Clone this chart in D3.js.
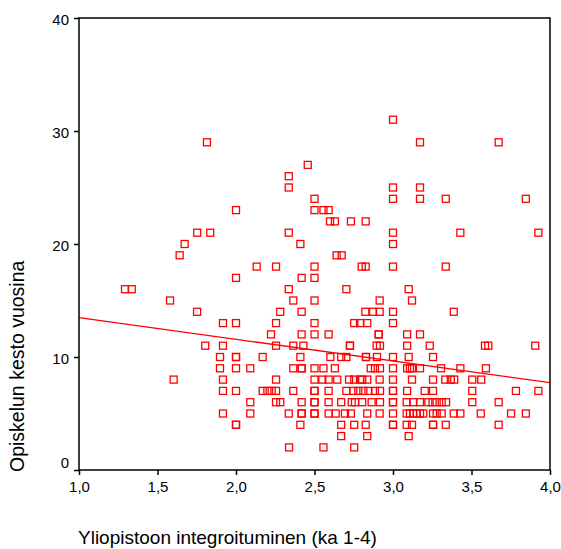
<!DOCTYPE html>
<html><head><meta charset="utf-8">
<script src="https://cdn.jsdelivr.net/npm/d3@7"></script>
<style>body{margin:0;background:#fff}svg{display:block}text{font-family:"Liberation Sans",Arial,sans-serif}</style>
</head><body><svg id="c" width="561" height="549"></svg>
<script>
// Observed data: rows of y (study duration, years) with x values (integration mean)
const rowY = [31,29,27,26,25,24,23,22,21,20,19,18,17,16,15,14,13,12,11,10,9,8,7,6,5,4,3,2];
const rowX = [
 [3.0],
 [1.815,3.172,3.673],
 [2.457],
 [2.336],
 [2.336,3.0,3.172],
 [2.5,3.0,3.172,3.336,3.846],
 [2.0,2.5,2.557,2.59],
 [2.599,2.63,2.732,2.826],
 [1.753,1.836,2.336,3.0,3.429,3.926],
 [1.673,2.41,3.0],
 [1.641,2.641,2.673],
 [2.132,2.255,2.5,2.801,2.826,3.0,3.336],
 [2.0,2.418,2.5],
 [1.293,1.336,2.336,2.703,3.1],
 [1.58,2.365,2.5,2.915,3.121],
 [1.752,2.282,2.418,2.824,2.873,2.915,3.0,3.387],
 [1.917,2.0,2.255,2.5,2.753,2.79,2.836,3.0],
 [2.223,2.418,2.5,2.59,2.909,2.909,3.09,3.172],
 [1.804,1.917,2.255,2.365,2.429,2.726,2.726,2.896,2.917,3.09,3.234,3.586,3.607,3.906],
 [1.898,2.0,2.0,2.17,2.41,2.601,2.67,2.703,2.828,2.828,2.898,3.0,3.1,3.255],
 [1.898,2.0,2.091,2.365,2.418,2.418,2.5,2.557,2.63,2.858,2.885,2.917,3.0,3.09,3.108,3.121,3.172,3.306,3.429,3.592],
 [1.603,1.917,2.255,2.5,2.55,2.59,2.645,2.72,2.753,2.79,2.804,2.836,2.915,3.0,3.121,3.255,3.333,3.368,3.39,3.505,3.562],
 [1.917,2.0,2.17,2.2,2.227,2.255,2.365,2.5,2.5,2.59,2.703,2.747,2.779,2.811,2.843,2.885,2.917,3.0,3.0,3.09,3.202,3.255,3.505,3.783,3.926],
 [2.091,2.255,2.282,2.418,2.5,2.5,2.59,2.67,2.737,2.758,2.804,2.864,2.917,3.0,3.0,3.087,3.129,3.172,3.225,3.252,3.278,3.31,3.338,3.505,3.673],
 [1.917,2.091,2.336,2.418,2.418,2.5,2.5,2.59,2.635,2.694,2.732,2.836,2.915,3.0,3.087,3.108,3.129,3.151,3.172,3.193,3.255,3.278,3.31,3.387,3.429,3.559,3.752,3.846],
 [2.0,2.0,2.41,2.67,2.753,2.826,3.0,3.0,3.087,3.121,3.255,3.255,3.336,3.673],
 [2.67,2.836,3.1],
 [2.338,2.557,2.753]
];
// Fitted regression line
const fitX = [1.0, 4.0];
const fitY = [13.48, 7.73];
const xTicks = [1.0,1.5,2.0,2.5,3.0,3.5,4.0];
const xTickLabels = ["1,0","1,5","2,0","2,5","3,0","3,5","4,0"];
const yTicks = [0,10,20,30,40];
const yTickLabels = ["0","10","20","30","40"];
const xTitle = "Yliopistoon integroituminen (ka 1-4)";
const yTitle = "Opiskelun kesto vuosina";

const points = [];
rowY.forEach((y,i)=>rowX[i].forEach(x=>points.push({x,y})));

const svg = d3.select("#c");
const L=79, R=550, T=18, B=470;
const x = d3.scaleLinear().domain([1,4]).range([L,R]);
const y = d3.scaleLinear().domain([0,40]).range([B,T]);

// points
const s = 7;
svg.append("g").selectAll("rect").data(points).join("rect")
  .attr("x", d=>x(d.x)-s/2).attr("y", d=>y(d.y)-s/2)
  .attr("width", s).attr("height", s)
  .attr("fill","none").attr("stroke","#ff0000").attr("stroke-width",1.3);

// regression line
svg.append("line")
  .attr("x1", x(fitX[0])).attr("y1", y(fitY[0]))
  .attr("x2", x(fitX[1])).attr("y2", y(fitY[1]))
  .attr("stroke","#ff0000").attr("stroke-width",1.4);

// frame
svg.append("rect").attr("x",L).attr("y",T).attr("width",R-L).attr("height",B-T)
  .attr("fill","none").attr("stroke","#000").attr("stroke-width",1.5);

// axes
const xAxis = d3.axisBottom(x).tickValues(xTicks).tickSize(5)
  .tickFormat((d,i)=>xTickLabels[i]);
const gx = svg.append("g").attr("transform",`translate(0,${B})`).call(xAxis);
gx.select(".domain").remove();
gx.selectAll("line").attr("stroke","#000").attr("stroke-width",1.5);
gx.selectAll("text").attr("font-size",15).attr("fill","#000").attr("dy","0.9em");

const yAxis = d3.axisLeft(y).tickValues(yTicks).tickSize(5)
  .tickFormat((d,i)=>yTickLabels[i]);
const gy = svg.append("g").attr("transform",`translate(${L},0)`).call(yAxis);
gy.select(".domain").remove();
gy.selectAll("line").attr("stroke","#000").attr("stroke-width",1.5);
gy.selectAll("text").attr("font-size",15).attr("fill","#000").attr("x",-10)
  .attr("dy", d=> d===0 ? "-0.15em" : "0.4em");

// titles
svg.append("text").attr("x",78).attr("y",544).attr("font-size",19).attr("fill","#000").text(xTitle);
svg.append("text").attr("transform","translate(24,472) rotate(-90)").attr("font-size",19.5).attr("fill","#000").text(yTitle);
</script></body></html>
